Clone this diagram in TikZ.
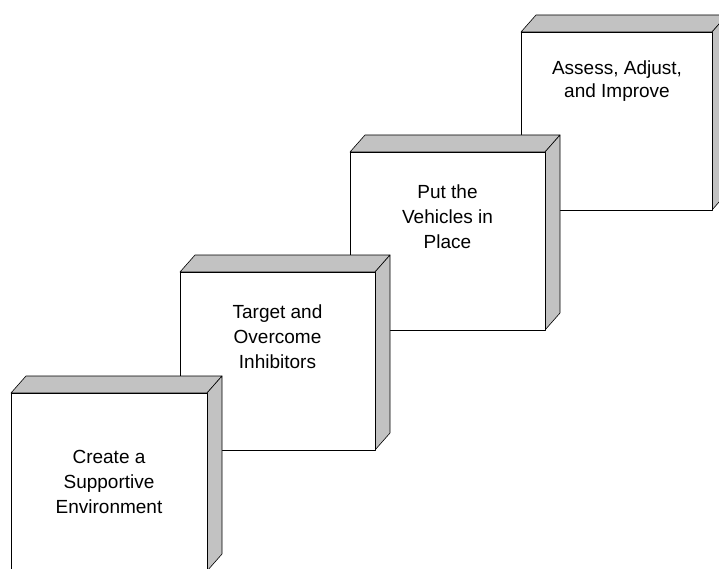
\documentclass[tikz,border=0pt]{standalone}
\usepackage{fontspec}
\setmainfont{Liberation Sans}
\usepackage{tikz}

\tikzset{
  face/.style={draw=black, line width=0.6pt, line join=round},
  side/.style={face, fill=black!24},
  steptext/.style={font=\fontsize{19}{25}\selectfont, align=center}
}

\begin{document}
\begin{tikzpicture}[x=1pt, y=-1pt]
  \useasboundingbox (0,0) rectangle (719,569);
  \clip (0,0) rectangle (719,569);
  % steps, drawn from the back one to the front one
  \foreach \bx/\by/\bw in {521/32/191, 350/152/195, 180/272/195, 11/393/196}{
    \draw[side] (\bx,\by) -- (\bx+15,\by-17) -- (\bx+\bw+15,\by-17) -- (\bx+\bw,\by) -- cycle;
    \draw[side] (\bx+\bw,\by) -- (\bx+\bw+15,\by-17) -- (\bx+\bw+15,\by+161) -- (\bx+\bw,\by+178) -- cycle;
    \draw[face, fill=white] (\bx,\by) rectangle (\bx+\bw,\by+178);
  }
  \node[steptext] (env) at (109,482) {Create a\\Supportive\\Environment};
  \node[steptext] (inh) at (277.5,337) {Target and\\Overcome\\Inhibitors};
  \node[steptext] (veh) at (447.5,217) {Put the\\Vehicles in\\Place};
  \node[steptext, font=\fontsize{19}{23}\selectfont] (imp) at (617,81) {Assess, Adjust,\\and Improve};
\end{tikzpicture}
\end{document}
